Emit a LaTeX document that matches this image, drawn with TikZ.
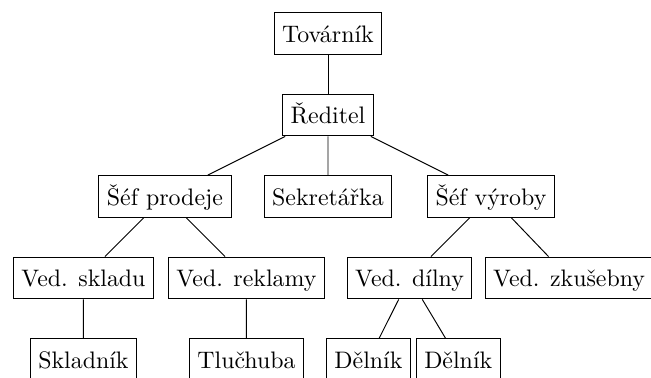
\documentclass[tikz,border=0pt]{standalone}
\usepackage{fontspec}
\begin{document}
\begin{tikzpicture}[line width=.4pt,b/.style={draw,text height=9.2pt,text depth=1.7pt,inner xsep=.3333em}]
                     \useasboundingbox(-4.829,.493)rectangle(4.756,-5.072);
                     \node[b](tov)at(0,0){Továrník};
                     \node[b](red)at(0,-1.2){Ředitel};
                     \node[b](prod)at(-2.4,-2.4){Šéf prodeje};
                     \node[b](sekr)at(0,-2.4){Sekretářka};
                     \node[b](vyr)at(2.4,-2.4){Šéf výroby};
                     \node[b](skl)at(-3.6,-3.6){Ved. skladu};
                     \node[b](rekl)at(-1.2,-3.6){Ved. reklamy};
                     \node[b](dil)at(1.2,-3.6){Ved. dílny};
                     \node[b](zk)at(3.55,-3.6){Ved. zkušebny};
                     \node[b](skladnik)at(-3.6,-4.8){Skladník};
                     \node[b](tluc)at(-1.2,-4.8){Tlučhuba};
                     \node[b](del1)at(.596,-4.8){Dělník};
                     \node[b](del2)at(1.918,-4.8){Dělník};
                     \draw(tov)--(red);
                     \draw(red)--(prod) (red)--(sekr) (red)--(vyr);
                     \draw(prod)--(skl) (prod)--(rekl) (vyr)--(dil) (vyr)--(zk);
                     \draw(skl)--(skladnik) (rekl)--(tluc) (dil)--(del1) (dil)--(del2);
                 \end{tikzpicture}
\end{document}
